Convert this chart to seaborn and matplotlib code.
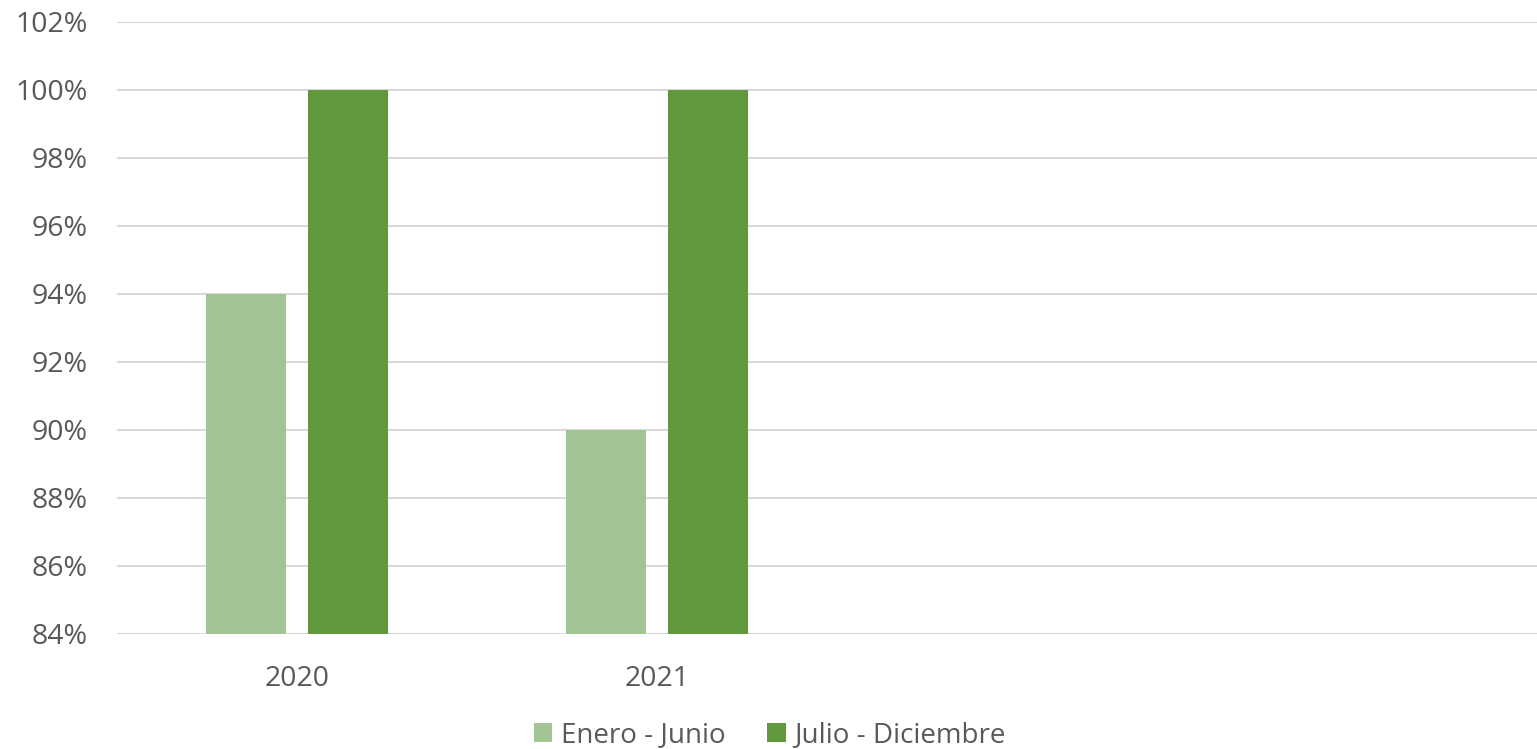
import matplotlib
matplotlib.use('Agg')
import matplotlib.pyplot as plt
import matplotlib.ticker as mtick
import seaborn as sns
import pandas as pd

# data
years = ['2020', '2021']
enero_junio = [0.94, 0.90]
julio_diciembre = [1.00, 1.00]
series_names = ['Enero - Junio', 'Julio - Diciembre']
colors = ['#A3C593', '#62993E']

df = pd.DataFrame({
    'year': years * 2,
    'value': enero_junio + julio_diciembre,
    'serie': [series_names[0]] * len(years) + [series_names[1]] * len(years),
})

sns.set_theme(style='white')
plt.rcParams['font.family'] = ['Open Sans', 'DejaVu Sans']
text_color = '#595959'

fig = plt.figure(figsize=(15.37, 7.49), dpi=100)
ax = fig.add_axes([117 / 1537, 1 - 634 / 749, 1440 / 1537, (634 - 22) / 749])

sns.barplot(data=df, x='year', y='value', hue='serie', order=years,
            hue_order=series_names, palette=colors, width=0.564, gap=0.21,
            saturation=1, linewidth=0, ax=ax, legend=True)

ax.set_xlim(-0.5, 3.5)
ax.set_ylim(0.84, 1.02)
ax.set_yticks([0.84 + 0.02 * i for i in range(10)])
ax.yaxis.set_major_formatter(mtick.PercentFormatter(1.0, decimals=0))
ax.grid(axis='y', color='#D9D9D9', linewidth=1.5)
ax.set_axisbelow(True)
for s in ax.spines.values():
    s.set_visible(False)
ax.set_xlabel('')
ax.set_ylabel('')
ax.tick_params(axis='both', length=0, labelsize=20.5, colors=text_color)
ax.tick_params(axis='x', pad=22)
ax.tick_params(axis='y', pad=21)

handles, labels = ax.get_legend_handles_labels()
ax.legend_.remove()
fig.legend(handles, labels, loc='center', bbox_to_anchor=(770 / 1537, 1 - 735 / 749),
           ncol=2, frameon=False, fontsize=20, labelcolor=text_color,
           handlelength=0.65, handleheight=0.65, handletextpad=0.32, columnspacing=1.5,
           borderpad=0, borderaxespad=0)

fig.savefig('out.png', dpi=100, facecolor='white')
